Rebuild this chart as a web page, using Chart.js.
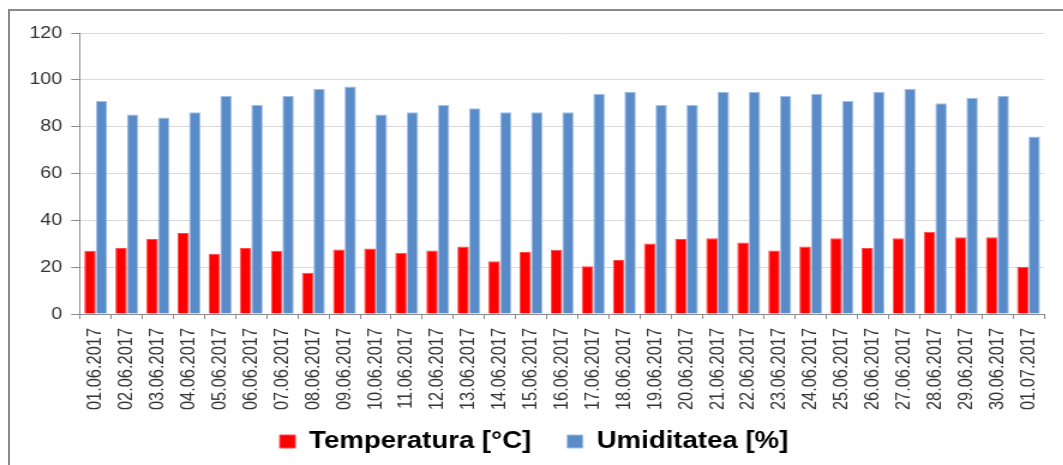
<!DOCTYPE html>
<html>
<head>
<meta charset="utf-8">
<script src="https://cdn.jsdelivr.net/npm/chart.js@4/dist/chart.umd.min.js"></script>
<style>
  html, body { margin: 0; padding: 0; background: #fff; overflow: hidden; }
  #stage { position: relative; width: 1063px; height: 465px; }
  #frame { position: absolute; left: 8px; top: 9px; width: 1070px; height: 470px;
           border-left: 2px solid #8a8a8a; border-top: 2px solid #8a8a8a; box-sizing: border-box; }
  #wrap { position: absolute; left: 0; top: 0; width: 886px; height: 465px;
          transform: scaleX(1.2); transform-origin: 0 0; }
</style>
</head>
<body>
<div id="stage">
  <div id="frame"></div>
  <div id="wrap"><canvas id="c" width="886" height="465"></canvas></div>
</div>
<script>
const categories = [
  "01.06.2017","02.06.2017","03.06.2017","04.06.2017","05.06.2017","06.06.2017","07.06.2017","08.06.2017",
  "09.06.2017","10.06.2017","11.06.2017","12.06.2017","13.06.2017","14.06.2017","15.06.2017","16.06.2017",
  "17.06.2017","18.06.2017","19.06.2017","20.06.2017","21.06.2017","22.06.2017","23.06.2017","24.06.2017",
  "25.06.2017","26.06.2017","27.06.2017","28.06.2017","29.06.2017","30.06.2017","01.07.2017"
];
const temperatura = [
  27.0, 28.2, 32.0, 34.6, 25.7, 28.2, 27.0, 17.6,
  27.5, 28.0, 26.2, 27.1, 28.8, 22.5, 26.5, 27.4,
  20.4, 23.1, 30.1, 32.0, 32.4, 30.5, 27.1, 28.8,
  32.4, 28.2, 32.4, 35.1, 32.8, 32.8, 20.2
];
const umiditatea = [
  91.0, 85.2, 83.9, 86.2, 93.2, 89.2, 93.2, 96.2,
  97.1, 85.2, 86.2, 89.2, 87.9, 86.2, 86.2, 86.2,
  94.1, 94.9, 89.2, 89.2, 94.9, 94.9, 93.2, 94.1,
  91.0, 94.9, 96.2, 90.0, 92.3, 93.2, 75.8
];
const seriesNames = ["Temperatura [°C]", "Umiditatea [%]"];
const yTicks = [0, 20, 40, 60, 80, 100, 120];

const FONT = "'Liberation Sans', Arial, sans-serif";

// let rotated x labels extend below the fitted scale box without being clipped
const unclipX = {
  id: 'unclipX',
  afterLayout(chart) { chart.scales.x.bottom = chart.height; }
};

new Chart(document.getElementById('c'), {
  type: 'bar',
  data: {
    labels: categories,
    datasets: [
      { label: seriesNames[0], data: temperatura, backgroundColor: '#FF0000',
        borderColor: '#FF4a4a', borderWidth: 1 },
      { label: seriesNames[1], data: umiditatea, backgroundColor: '#5A8BC9',
        borderColor: '#A3C0E6', borderWidth: 1 }
    ]
  },
  plugins: [unclipX],
  options: {
    responsive: false,
    animation: false,
    devicePixelRatio: 1,
    layout: { padding: { left: 17, right: 13, top: 33, bottom: 2 } },
    datasets: { bar: { categoryPercentage: 0.74, barPercentage: 1.0 } },
    plugins: {
      legend: {
        position: 'bottom',
        labels: {
          font: { family: FONT, size: 23, weight: 'bold' },
          color: '#000',
          boxWidth: 13, boxHeight: 13,
          padding: 30
        }
      },
      tooltip: { enabled: false }
    },
    scales: {
      x: {
        offset: true,
        grid: { display: true, drawOnChartArea: false, tickLength: 5, tickColor: '#8a8a8a' },
        border: { display: true, color: '#8a8a8a', width: 1 },
        ticks: {
          autoSkip: false, maxRotation: 90, minRotation: 90, padding: 9,
          color: '#333', font: { family: FONT, size: 16.4 }
        },
        afterFit: (s) => { s.height = 86; }
      },
      y: {
        min: 0, max: 120,
        afterBuildTicks: (s) => { s.ticks = yTicks.map(v => ({ value: v })); },
        grid: { color: '#D9D9D9', lineWidth: 1, tickLength: 7.5, tickColor: '#8a8a8a' },
        border: { display: true, color: '#8a8a8a', width: 1 },
        ticks: { padding: 7.5, color: '#333', font: { family: FONT, size: 16.4 } }
      }
    }
  }
});
</script>
</body>
</html>
